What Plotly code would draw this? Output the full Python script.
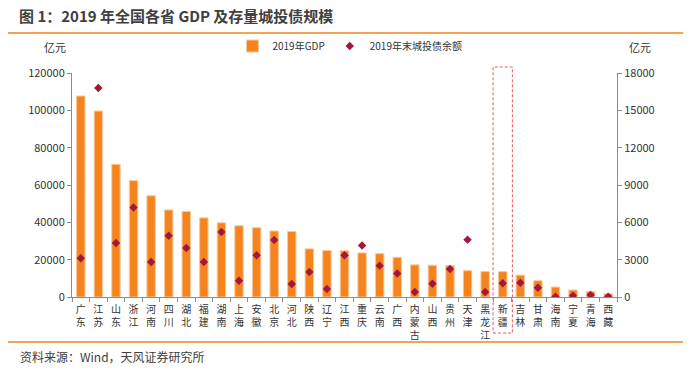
import plotly.graph_objects as go

provinces = ["广东","江苏","山东","浙江","河南","四川","湖北","福建","湖南","上海","安徽","北京","河北",
             "陕西","辽宁","江西","重庆","云南","广西","内蒙古","山西","贵州","天津","黑龙江","新疆",
             "吉林","甘肃","海南","宁夏","青海","西藏"]
gdp_2019 = [107671, 99631, 71067, 62352, 54259, 46616, 45828, 42395, 39752, 38155, 37114, 35371, 35104,
            25793, 24909, 24758, 23606, 23224, 21237, 17213, 17027, 16769, 14104, 13613, 13597,
            11727, 8718, 5309, 3748, 2966, 1698]
ctb_balance = [3110, 16790, 4340, 7200, 2810, 4930, 3940, 2810, 5220, 1310, 3350, 4580, 1050,
               2010, 640, 3350, 4130, 2520, 1880, 400, 1070, 2250, 4610, 400, 1100,
               1150, 750, 30, 110, 160, 20]
left_ticks = [0, 20000, 40000, 60000, 80000, 100000, 120000]
right_ticks = [0, 3000, 6000, 9000, 12000, 15000, 18000]

labels = ["<br>".join(list(p)) for p in provinces]
FONT = "Noto Sans CJK SC, Microsoft YaHei, sans-serif"
TXT = "#333333"
AXC = "#8c8c8c"

fig = go.Figure()
fig.add_trace(go.Bar(x=labels, y=gdp_2019, name="2019年GDP", marker=dict(color="#F5841F",
                     line=dict(color="#FBC79A", width=1)), width=0.48, yaxis="y"))
fig.add_trace(go.Scatter(x=labels, y=ctb_balance, name="2019年末城投债余额", mode="markers",
                         marker=dict(symbol="diamond", color="#A3173A", size=6.5), yaxis="y2"))

fig.update_layout(
    width=700, height=370,
    margin=dict(l=72, r=83, t=73, b=73, autoexpand=False),
    paper_bgcolor="white", plot_bgcolor="white",
    font=dict(family=FONT, size=11, color=TXT),
    showlegend=True,
    legend=dict(orientation="h", x=0.51, xanchor="center", y=(297 - 46) / 224, yanchor="middle",
                font=dict(size=10, color=TXT), itemwidth=30, tracegroupgap=0,
                bgcolor="rgba(0,0,0,0)"),
    bargap=0.5,
    xaxis=dict(type="category", showline=True, linecolor=AXC, linewidth=1, ticks="outside",
               tickson="boundaries", ticklen=4, tickcolor=AXC, showgrid=False, automargin=False,
               tickangle=0, tickfont=dict(size=10, color=TXT), range=[-0.5, 30.5],
               ticklabelstandoff=3),
    yaxis=dict(range=[0, 120000], tickvals=left_ticks, tickformat="d", showline=True, linecolor=AXC,
               ticks="outside", ticklen=4, tickcolor=AXC, showgrid=False, zeroline=False, automargin=False,
               tickfont=dict(size=11, color=TXT)),
    yaxis2=dict(range=[0, 18000], tickvals=right_ticks, tickformat="d", overlaying="y", side="right",
                showline=True, linecolor=AXC, ticks="outside", ticklen=4, tickcolor=AXC, automargin=False,
                showgrid=False, zeroline=False, tickfont=dict(size=11, color=TXT)),
)

# title and rules
fig.add_annotation(text="<b>图 1：2019 年全国各省 GDP 及存量城投债规模</b>", xref="paper", yref="paper",
                   x=(17 - 72) / 545, y=(297 - 16) / 224, xanchor="left", yanchor="middle", showarrow=False,
                   font=dict(size=15, color="#404040", family=FONT))
fig.add_shape(type="line", xref="paper", yref="paper", x0=(8 - 72) / 545, x1=(683 - 72) / 545,
              y0=(297 - 33) / 224, y1=(297 - 33) / 224, line=dict(color="#F5841F", width=1.5))
fig.add_shape(type="line", xref="paper", yref="paper", x0=(8 - 72) / 545, x1=(683 - 72) / 545,
              y0=(297 - 342) / 224, y1=(297 - 342) / 224, line=dict(color="#F5841F", width=1.5))
fig.add_annotation(text="资料来源：Wind，天风证券研究所", xref="paper", yref="paper",
                   x=(18 - 72) / 545, y=(297 - 356) / 224, xanchor="left", yanchor="middle",
                   showarrow=False, font=dict(size=12, color="#404040", family=FONT))
# unit labels
fig.add_annotation(text="亿元", xref="paper", yref="paper", x=(55 - 72) / 545, y=(297 - 47) / 224,
                   xanchor="center", yanchor="middle", showarrow=False, font=dict(size=11, color=TXT))
fig.add_annotation(text="亿元", xref="paper", yref="paper", x=(640 - 72) / 545, y=(297 - 47) / 224,
                   xanchor="center", yanchor="middle", showarrow=False, font=dict(size=11, color=TXT))
# dashed highlight box around 新疆
idx = provinces.index("新疆")
fig.add_shape(type="rect", xref="x", yref="paper", x0=idx - 0.55, x1=idx + 0.55,
              y0=(297 - 333) / 224, y1=(297 - 67) / 224,
              line=dict(color="#E8595C", width=1, dash="3px,2px"), fillcolor="rgba(0,0,0,0)")

fig.write_html("out.html", config={"displayModeBar": False},
               post_script="document.body.style.margin='0';document.body.style.overflow='hidden';")
